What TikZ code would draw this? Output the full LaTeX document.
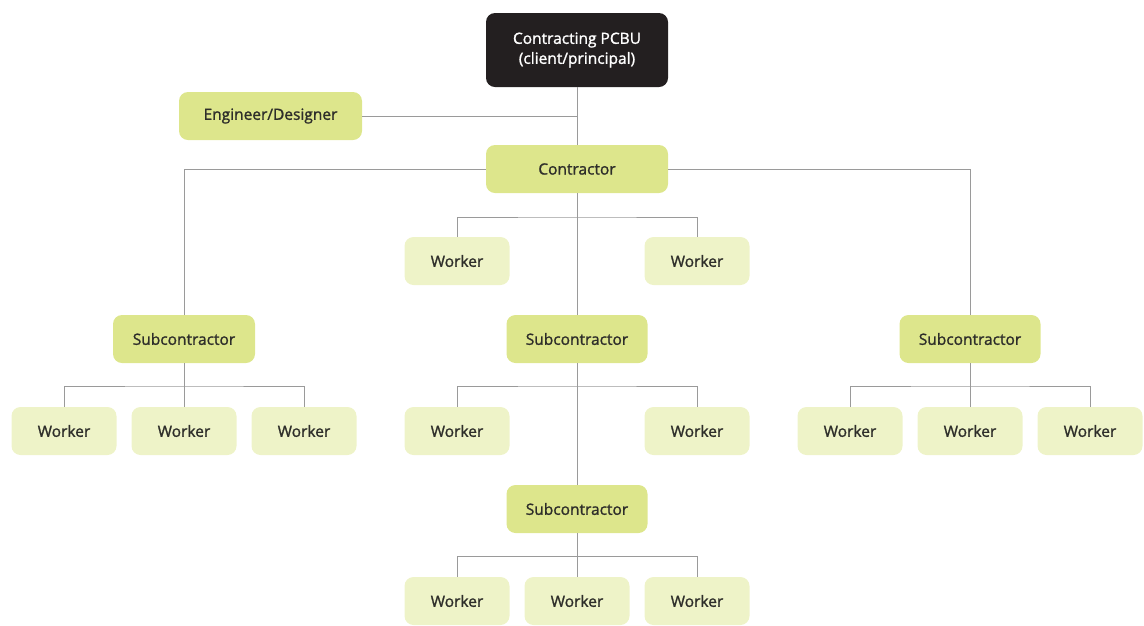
\documentclass[tikz,border=0pt]{standalone}
\usepackage{fontspec}
\setmainfont{Open Sans}[FakeBold=1.3]
\begin{document}
\definecolor{topfill}{HTML}{231F20}
\definecolor{rolefill}{HTML}{DDE68C}
\definecolor{workfill}{HTML}{EEF3C8}
\definecolor{linkgray}{HTML}{9A9A9A}
\definecolor{labeltext}{HTML}{2E2E2A}
\begin{tikzpicture}[x=1pt,y=-1pt,
  box/.style={rounded corners=9pt, minimum height=48pt, inner sep=0pt,
    font=\fontsize{15.5}{20}\selectfont, text=labeltext},
  topbox/.style={box, fill=topfill, text=white, minimum width=182pt,
    minimum height=74pt, align=center},
  rolebox/.style={box, fill=rolefill},
  workbox/.style={box, fill=workfill, minimum width=105pt},
  link/.style={draw=linkgray, line width=1pt}]
\useasboundingbox (0,0) rectangle (1144,625);

% boxes
\node[topbox] (pcbu) at (577,50) {Contracting PCBU\\(client/principal)};
\node[rolebox, minimum width=183pt] (eng) at (270.5,116) {Engineer/Designer};
\node[rolebox, minimum width=182pt] (con) at (577,169) {Contractor};

\node[workbox] (cw1) at (457,261) {Worker};
\node[workbox] (cw2) at (697,261) {Worker};

\node[rolebox, minimum width=142pt] (sl) at (184,339) {Subcontractor};
\node[rolebox, minimum width=141pt] (sm) at (577,339) {Subcontractor};
\node[rolebox, minimum width=141pt] (sr) at (970,339) {Subcontractor};

\node[workbox] (lw1) at (64,431) {Worker};
\node[workbox] (lw2) at (184,431) {Worker};
\node[workbox] (lw3) at (304,431) {Worker};
\node[workbox] (mw1) at (457,431) {Worker};
\node[workbox] (mw2) at (697,431) {Worker};
\node[workbox] (rw1) at (850,431) {Worker};
\node[workbox] (rw2) at (970,431) {Worker};
\node[workbox] (rw3) at (1090,431) {Worker};

\node[rolebox, minimum width=141pt] (sb) at (577,509) {Subcontractor};
\node[workbox] (bw1) at (457,601) {Worker};
\node[workbox] (bw2) at (577,601) {Worker};
\node[workbox] (bw3) at (697,601) {Worker};

% connectors
\path[link] (pcbu.south) -- (con.north);
\path[link] (eng.east) -- (577,116);
\path[link] (con.west) -| (sl.north);
\path[link] (con.east) -| (sr.north);
\path[link] (con.south) -- (sm.north);
\path[link] (cw1.north) |- (577,217) -| (cw2.north);
\path[link] (sl.south) -- (lw2.north);
\path[link] (lw1.north) |- (lw2.north |- 0,386) -| (lw3.north);
\path[link] (sm.south) -- (sb.north);
\path[link] (mw1.north) |- (577,386) -| (mw2.north);
\path[link] (sr.south) -- (rw2.north);
\path[link] (rw1.north) |- (rw2.north |- 0,386) -| (rw3.north);
\path[link] (sb.south) -- (bw2.north);
\path[link] (bw1.north) |- (577,556) -| (bw3.north);
\end{tikzpicture}
\end{document}
